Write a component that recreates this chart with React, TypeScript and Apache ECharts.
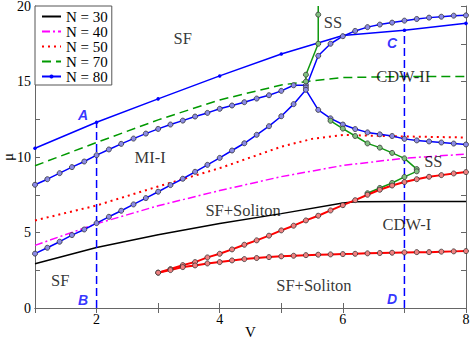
import React, { useEffect, useRef } from "react";
import * as echarts from "echarts";

// N-curves (V, mu)
const n30 = [[1, 2.93], [2, 4.0], [3, 4.85], [4, 5.6], [5, 6.25], [6, 6.95], [6.2, 7.03], [7, 7.05], [8, 7.06]];
const n40 = [[1, 4.15], [2, 5.58], [3, 6.77], [4, 7.78], [5, 8.7], [6, 9.44], [7, 9.92], [8, 10.19]];
const n50 = [[1, 5.8], [2, 6.79], [3, 8.05], [4, 9.26], [5, 10.68], [5.5, 11.2], [6, 11.46], [7, 11.36], [8, 11.29]];
const n70 = [[1, 9.42], [2, 10.96], [3, 12.46], [4, 13.78], [5, 14.77], [5.5, 15.04], [6, 15.26], [7, 15.33], [8, 15.33]];
const n80 = [[1, 10.58], [2, 12.3], [3, 13.85], [4, 15.37], [5, 16.82], [6, 18.05], [7, 18.4], [8, 18.85]];

// phase boundaries
const blueUpper = [[1, 8.16], [1.2, 8.53], [1.4, 8.93], [1.6, 9.33], [1.8, 9.7], [2, 10.12], [2.2, 10.5], [2.4, 10.87], [2.6, 11.22], [2.8, 11.55], [3, 11.86], [3.2, 12.15], [3.4, 12.41], [3.6, 12.68], [3.8, 12.92], [4, 13.19], [4.2, 13.41], [4.4, 13.63], [4.6, 13.87], [4.8, 14.09], [5, 14.38], [5.2, 14.75], [5.4, 14.75], [5.4, 14.6], [5.6, 16.7], [5.8, 17.5], [6, 18.0], [6.2, 18.35], [6.4, 18.6], [6.6, 18.77], [6.8, 18.9], [7, 19.03], [7.2, 19.14], [7.4, 19.23], [7.6, 19.29], [7.8, 19.36], [8, 19.38]];
const blueLower = [[1, 3.6], [1.2, 3.99], [1.4, 4.39], [1.6, 4.83], [1.8, 5.2], [2, 5.62], [2.2, 6.04], [2.4, 6.44], [2.6, 6.86], [2.8, 7.28], [3, 7.7], [3.2, 8.14], [3.4, 8.56], [3.6, 9.02], [3.8, 9.48], [4, 9.94], [4.2, 10.43], [4.4, 10.91], [4.6, 11.47], [4.8, 12.04], [5, 12.7], [5.2, 13.5], [5.4, 14.45], [5.6, 13.12], [5.8, 12.56], [6, 12.15], [6.2, 11.85], [6.4, 11.63], [6.6, 11.5], [6.8, 11.39], [7, 11.2], [7.2, 11.1], [7.4, 11.03], [7.6, 10.96], [7.8, 10.89], [8, 10.83]];
const greenUpper = [[5.6, 20], [5.6, 19.43], [5.6, 17.5], [5.4, 15.45], [5.4, 15.0]];
const greenLower = [[5.8, 12.4], [6, 11.88], [6.2, 11.39], [6.4, 10.9], [6.6, 10.62], [6.8, 10.27], [7, 9.91], [7.2, 9.2], [7.2, 9.05], [7, 8.68], [6.8, 8.28], [6.6, 7.95], [6.4, 7.6]];
const redUpper = [[3, 2.34], [3.2, 2.58], [3.4, 2.84], [3.6, 3.04], [3.8, 3.35], [4, 3.59], [4.2, 3.88], [4.4, 4.19], [4.6, 4.48], [4.8, 4.79], [5, 5.14], [5.2, 5.45], [5.4, 5.8], [5.6, 6.11], [5.8, 6.46], [6, 6.81], [6.2, 7.14], [6.4, 7.5], [6.6, 7.83], [6.8, 8.11], [7, 8.34], [7.2, 8.53], [7.4, 8.69], [7.6, 8.8], [7.8, 8.91], [8, 9.0]];
const redLower = [[3, 2.34], [3.2, 2.51], [3.4, 2.71], [3.6, 2.82], [3.8, 2.95], [4, 3.04], [4.2, 3.15], [4.4, 3.24], [4.6, 3.31], [4.8, 3.37], [5, 3.42], [5.2, 3.46], [5.4, 3.5], [5.6, 3.53], [5.8, 3.55], [6, 3.57], [6.2, 3.59], [6.4, 3.62], [6.6, 3.64], [6.8, 3.66], [7, 3.68], [7.2, 3.7], [7.4, 3.7], [7.6, 3.73], [7.8, 3.75], [8, 3.77]];

// vertical cuts
const cutA = [[2, 0], [2, 12.3]];
const cutC = [[7, 0], [7, 18.4]];

// annotations
const phaseLabels = [
  { name: "SF", value: [3.4, 17.88] },
  { name: "SS", value: [5.84, 18.94] },
  { name: "CDW-II", value: [6.98, 15.36] },
  { name: "MI-I", value: [2.87, 10.0] },
  { name: "SS", value: [7.47, 9.73] },
  { name: "SF+Soliton", value: [4.38, 6.49] },
  { name: "CDW-I", value: [7.04, 5.56] },
  { name: "SF", value: [1.41, 1.79] },
  { name: "SF+Soliton", value: [5.53, 1.46] },
];
const cutLabels = [
  { name: "A", value: [1.78, 12.78] },
  { name: "B", value: [1.78, 0.53] },
  { name: "C", value: [6.8, 17.55] },
  { name: "D", value: [6.8, 0.6] },
];

const legendNames = ["N = 30", "N = 40", "N = 50", "N = 70", "N = 80"];

const SERIF = "Liberation Serif";

function circleSeries(data: any[], line: string, fill: string, width = 1.5) {
  return {
    type: "line",
    data,
    symbol: "circle",
    symbolSize: 5,
    lineStyle: { color: line, width },
    itemStyle: { color: fill, borderColor: "#333", borderWidth: 0.8 },
    z: 3,
  };
}

export default function App() {
  const ref = useRef<HTMLDivElement>(null);
  useEffect(() => {
    const chart = echarts.init(ref.current!, null, { renderer: "svg" });
    const axisCommon = {
      axisLine: { show: true, lineStyle: { color: "#666", width: 1 } },
      axisTick: { show: true, inside: true, length: 5, lineStyle: { color: "#666" } },
      splitLine: { show: false },
    };
    const option: any = {
      animation: false,
      backgroundColor: "#fff",
      grid: { left: 35, right: 5, top: 6, bottom: 30, containLabel: false, outerBoundsMode: "none" },
      legend: {
        data: legendNames.map((n, i) => ({
          name: n,
          itemStyle: i === 4 ? {} : { opacity: 0 },
        })),
        orient: "vertical",
        left: 35,
        top: 6,
        padding: [3, 4, 1, 6],
        itemGap: 0,
        itemWidth: 19,
        itemHeight: 5,
        borderColor: "#555",
        borderWidth: 1,
        backgroundColor: "#fff",
        textStyle: { fontFamily: SERIF, fontSize: 15, color: "#000", lineHeight: 14.5 },
      },
      xAxis: [
        {
          type: "value", min: 1, max: 8, interval: 1, position: "bottom",
          name: "V", nameLocation: "middle", nameGap: 16, nameMoveOverlap: false,
          nameTextStyle: { fontFamily: SERIF, fontSize: 15, color: "#000" },
          axisLabel: { fontFamily: SERIF, fontSize: 14, color: "#000", margin: 4, formatter: (v: number) => (v % 2 === 0 ? String(v) : "") },
          ...axisCommon,
        },
        {
          type: "value", min: 1, max: 8, interval: 1, position: "top",
          axisLabel: { show: false },
          ...axisCommon,
        },
      ],
      yAxis: [
        {
          type: "value", min: 0, max: 20, interval: 2.5, position: "left",
          name: "μ", nameLocation: "middle", nameGap: 20, nameMoveOverlap: false,
          nameTextStyle: { fontFamily: SERIF, fontSize: 15, color: "#000" },
          axisLabel: { fontFamily: SERIF, fontSize: 14, color: "#000", margin: 4, formatter: (v: number) => (v % 5 === 0 ? String(v) : "") },
          ...axisCommon,
        },
        {
          type: "value", min: 0, max: 20, interval: 2.5, position: "right",
          axisLabel: { show: false },
          ...axisCommon,
        },
      ],
      series: [
        { name: "N = 30", type: "line", data: n30, symbol: "none", lineStyle: { color: "#000", width: 1.5 }, itemStyle: { color: "#000" } },
        { name: "N = 40", type: "line", data: n40, symbol: "none", lineStyle: { color: "#ff00ff", width: 1.5, type: [8, 3, 2, 3] }, itemStyle: { color: "#ff00ff" } },
        { name: "N = 50", type: "line", data: n50, symbol: "none", lineStyle: { color: "#ff0000", width: 2, type: [2, 4] }, itemStyle: { color: "#ff0000" } },
        { name: "N = 70", type: "line", data: n70, symbol: "none", lineStyle: { color: "#009900", width: 1.5, type: [9, 5] }, itemStyle: { color: "#009900" } },
        { name: "N = 80", type: "line", data: n80, symbol: "circle", symbolSize: 3.5, lineStyle: { color: "#0000ff", width: 1.5 }, itemStyle: { color: "#0000ff" } },
        { type: "line", data: cutA, symbol: "none", lineStyle: { color: "#0000ff", width: 1.5, type: [8, 4] } },
        { type: "line", data: cutC, symbol: "none", lineStyle: { color: "#0000ff", width: 1.5, type: [8, 4] } },
        circleSeries(blueUpper, "#0000ff", "#8a8ae6"),
        circleSeries(blueLower, "#0000ff", "#8a8ae6"),
        circleSeries(greenUpper.map((p, i) => (i === 0 ? { value: p, symbol: "none" } : p)), "#119911", "#80c080"),
        circleSeries(greenLower, "#119911", "#80c080"),
        circleSeries(redUpper, "#ff0000", "#f08080", 2),
        circleSeries(redLower, "#ff0000", "#f08080", 2),
        {
          type: "scatter",
          data: phaseLabels,
          symbolSize: 1,
          itemStyle: { color: "transparent" },
          label: { show: true, position: "inside", formatter: "{b}", fontFamily: SERIF, fontSize: 16.5, color: "#000" },
          z: 5,
        },
        {
          type: "scatter",
          data: cutLabels,
          symbolSize: 1,
          itemStyle: { color: "transparent" },
          label: { show: true, position: "inside", formatter: "{b}", fontFamily: "Liberation Sans", fontStyle: "italic", fontWeight: "bold", fontSize: 14, color: "#0000ff" },
          z: 5,
        },
      ],
    };
    chart.setOption(option);
    return () => chart.dispose();
  }, []);
  return <div ref={ref} style={{ position: "fixed", left: 0, top: 0, width: 471, height: 338 }} />;
}
